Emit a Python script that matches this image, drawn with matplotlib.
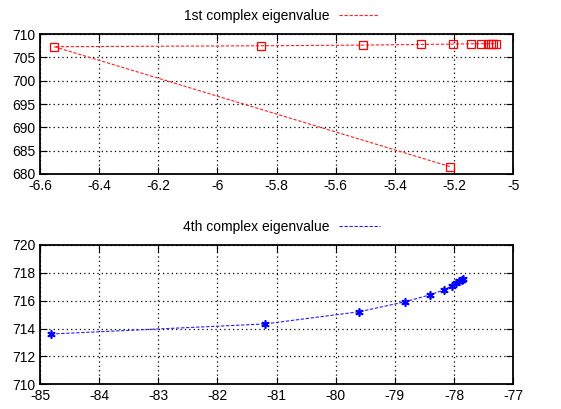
import numpy as np
import matplotlib.pyplot as plt
from matplotlib.lines import Line2D

plt.rcParams['font.family'] = ['Liberation Sans', 'DejaVu Sans']
plt.rcParams['axes.unicode_minus'] = False

# 1st complex eigenvalue (real, imag), in drawing order
ev1_re = [-5.214, -6.552, -5.852, -5.508, -5.313, -5.203, -5.144, -5.108,
          -5.086, -5.076, -5.067, -5.059]
ev1_im = [681.6, 707.3, 707.5, 707.64, 707.78, 707.86, 707.92, 707.93,
          707.95, 707.95, 707.96, 707.96]

# 4th complex eigenvalue
ev4_re = [-84.81, -81.20, -79.60, -78.82, -78.40, -78.17, -78.04, -77.96,
          -77.91, -77.87, -77.85]
ev4_im = [713.61, 714.33, 715.21, 715.93, 716.43, 716.77, 717.06, 717.30,
          717.42, 717.49, 717.56]

fig = plt.figure(figsize=(5.61, 4.09), dpi=100)
ax1 = fig.add_axes([0.0713, 0.5746, 0.8433, 0.342])
ax2 = fig.add_axes([0.0713, 0.0604, 0.8433, 0.3406])

dash = (0, (3, 1.5))


def style(ax):
    ax.grid(True, color='black', linestyle=(0, (1, 2.5)), linewidth=0.9)
    ax.tick_params(direction='in', top=True, right=True, labelsize=10, length=5)
    for s in ax.spines.values():
        s.set_linewidth(1.3)


def key(ax, color, label):
    h = Line2D([], [], color=color, linestyle=dash, linewidth=0.8)
    ax.legend([h], [label], loc='lower center', bbox_to_anchor=(0.51, 1.0),
              frameon=False, fontsize=10, handlelength=2.9, markerfirst=False,
              borderpad=0.3, handletextpad=0.7)


ax1.plot(ev1_re, ev1_im, color='#ff2020', linestyle=dash, linewidth=0.8,
         marker='s', markerfacecolor='none', markeredgecolor='#ff0000',
         markersize=6, markeredgewidth=0.9)
ax1.set_xlim(-6.6, -5)
ax1.set_ylim(680, 710)
ax1.set_xticks(np.arange(-6.6, -4.99, 0.2))
ax1.set_xticklabels(['-6.6', '-6.4', '-6.2', '-6', '-5.8', '-5.6', '-5.4', '-5.2', '-5'])
ax1.set_yticks(np.arange(680, 711, 5))
style(ax1)
key(ax1, '#ff2020', '1st complex eigenvalue')

ax2.plot(ev4_re, ev4_im, color='#2020ff', linestyle=dash, linewidth=0.8,
         marker=(6, 2, 0), markeredgecolor='#0000ff', markersize=6,
         markeredgewidth=1.2)
ax2.set_xlim(-85, -77)
ax2.set_ylim(710, 720)
ax2.set_xticks(np.arange(-85, -76.9, 1))
ax2.set_yticks(np.arange(710, 721, 2))
style(ax2)
key(ax2, '#2020ff', '4th complex eigenvalue')

fig.savefig('out.png', dpi=100)
